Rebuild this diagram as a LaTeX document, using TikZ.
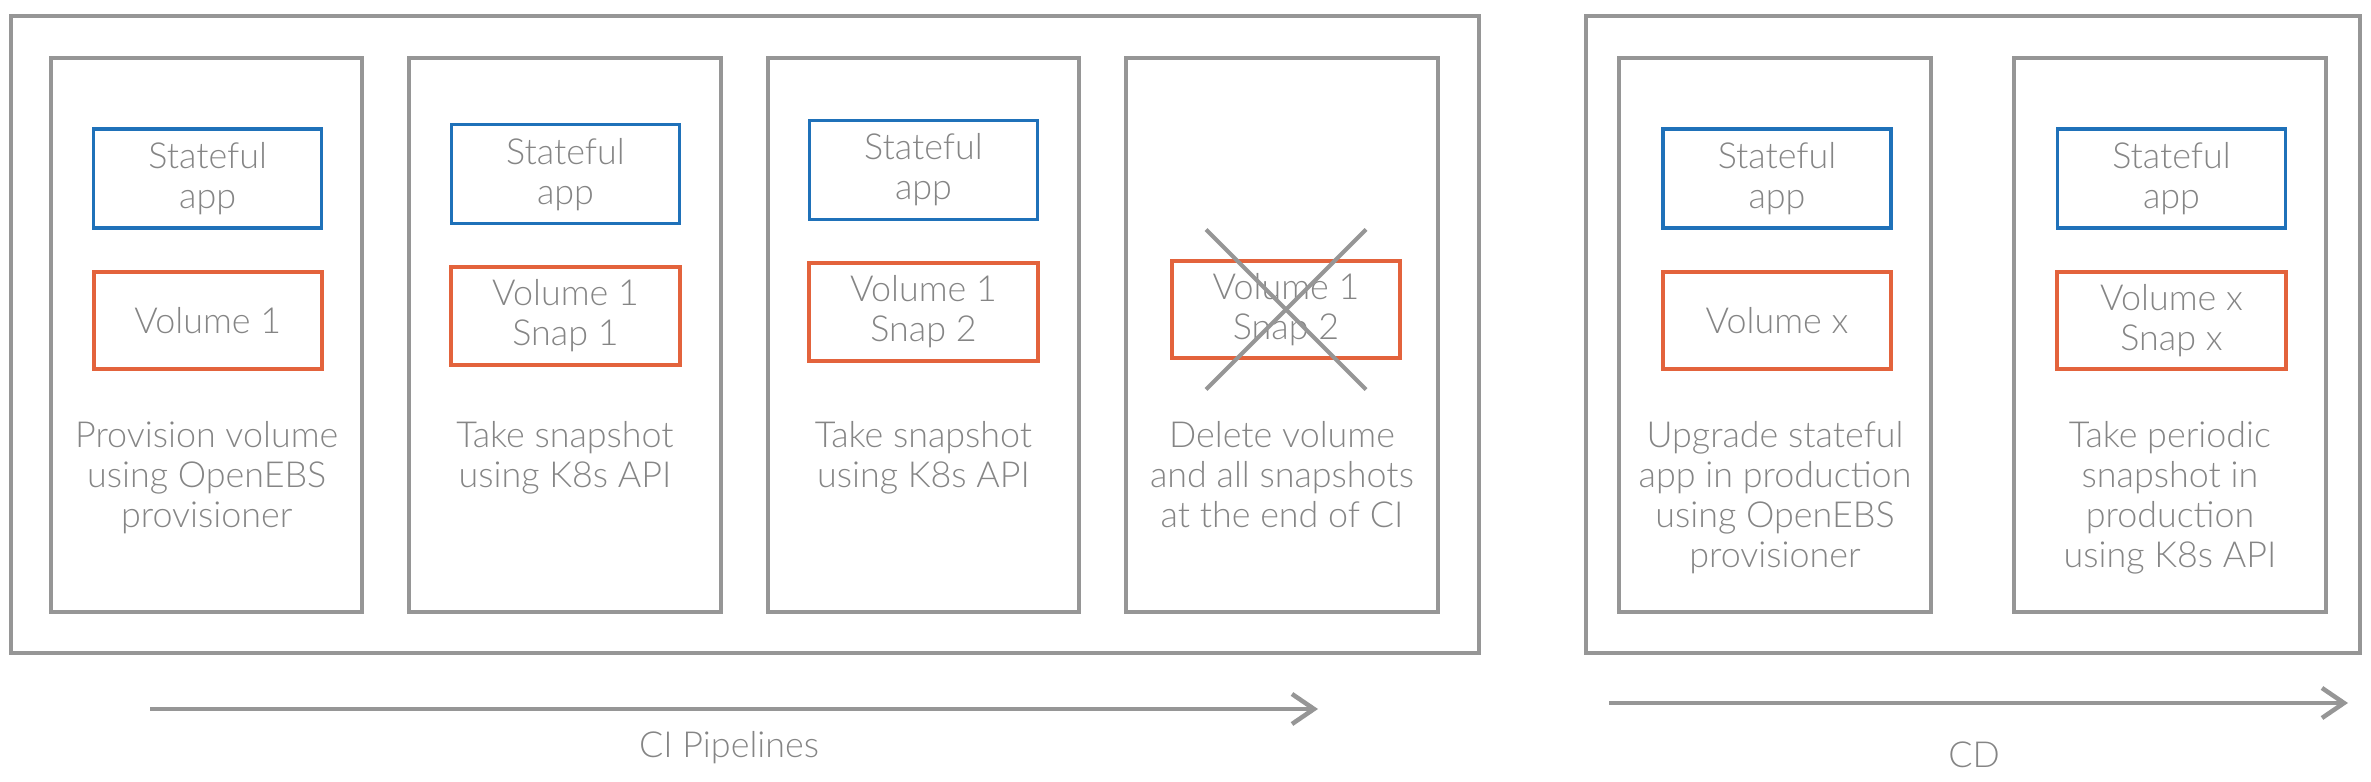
\documentclass[tikz,border=0pt]{standalone}
\usepackage{fontspec}
\setmainfont{Lato Light}
\usetikzlibrary{arrows.meta}
\definecolor{gris}{HTML}{969696}
\definecolor{gristexte}{HTML}{858585}
\definecolor{bleu}{HTML}{1F71B9}
\definecolor{orange}{HTML}{E3633C}
\begin{document}
\begin{tikzpicture}[x=0.01cm, y=-0.01cm]
\tikzset{cadre/.style={draw=gris, line width=0.04cm, inner sep=0pt},
panneau/.style={cadre, minimum width=3.11cm, minimum height=5.54cm},
appli/.style={draw=bleu, line width=0.033cm, minimum width=2.28cm, minimum height=0.99cm, inner sep=0pt, align=center, text=gristexte, font=\fontsize{10.2}{11.4}\selectfont},
volume/.style={appli, draw=orange, line width=0.04cm, minimum height=0.97cm},
legende/.style={anchor=north, inner sep=0pt, align=center, text=gristexte, font=\fontsize{10.2}{11.3}\selectfont},
titre/.style={inner sep=0pt, text=gristexte, font=\fontsize{10.2}{12}\selectfont},
fleche/.style={draw=gris, line width=0.045cm, -{Straight Barb[length=0.22cm, width=0.30cm]}},
croix/.style={draw=gris, line width=0.04cm}}
\useasboundingbox (0,0) rectangle (2371,782);
\node[cadre, minimum width=14.67cm, minimum height=6.37cm] (CI) at (744.7,334.7) {};
\node[cadre, minimum width=7.74cm, minimum height=6.37cm] (CD) at (1973,334.7) {};
\node[panneau] (P1) at (206.7,335) {};
\node[panneau] (P2) at (565,335) {};
\node[panneau] (P3) at (923.5,335) {};
\node[panneau] (P4) at (1282,335) {};
\node[panneau] (P5) at (1775,335) {};
\node[panneau] (P6) at (2170,335) {};
\node[appli] (A1) at (207.7,178.5) {Stateful\\app};
\node[appli] (A2) at (565.5,174.3) {Stateful\\app};
\node[appli] (A3) at (923.5,170) {Stateful\\app};
\node[appli] (A5) at (1777,178.5) {Stateful\\app};
\node[appli] (A6) at (2171.5,178.5) {Stateful\\app};
\node[volume] (V1) at (207.7,320.5) {Volume 1};
\node[volume] (V2) at (565.5,316) {Volume 1\\Snap 1};
\node[volume] (V3) at (923.5,312) {Volume 1\\Snap 2};
\node[volume] (V4) at (1286,309.5) {Volume 1\\Snap 2};
\node[volume] (V5) at (1777,320.5) {Volume x};
\node[volume] (V6) at (2171.5,320.5) {Volume x\\Snap x};
\draw[croix] ([shift={(-80,-80)}]V4.center) -- ([shift={(80,80)}]V4.center);
\draw[croix] ([shift={(80,-80)}]V4.center) -- ([shift={(-80,80)}]V4.center);
\node[legende] (T1) at (206.7,421) {Provision volume\\using OpenEBS\\provisioner};
\node[legende] (T2) at (565,421) {Take snapshot\\using K8s API};
\node[legende] (T3) at (923.5,421) {Take snapshot\\using K8s API};
\node[legende] (T4) at (1282,421) {Delete volume\\and all snapshots\\at the end of CI};
\node[legende] (T5) at (1775,421) {Upgrade stateful\\app in production\\using OpenEBS\\provisioner};
\node[legende] (T6) at (2170,421) {Take periodic\\snapshot in\\production\\using K8s API};
\coordinate (ci0) at (150,709);
\coordinate (ci1) at (1318,709);
\coordinate (cd0) at (1609,703);
\coordinate (cd1) at (2348,703);
\draw[fleche] (ci0) -- (ci1);
\draw[fleche] (cd0) -- (cd1);
\node[titre] (LCI) at (729,748) {CI Pipelines};
\node[titre] (LCD) at (1974,755) {CD};
\end{tikzpicture}
\end{document}
